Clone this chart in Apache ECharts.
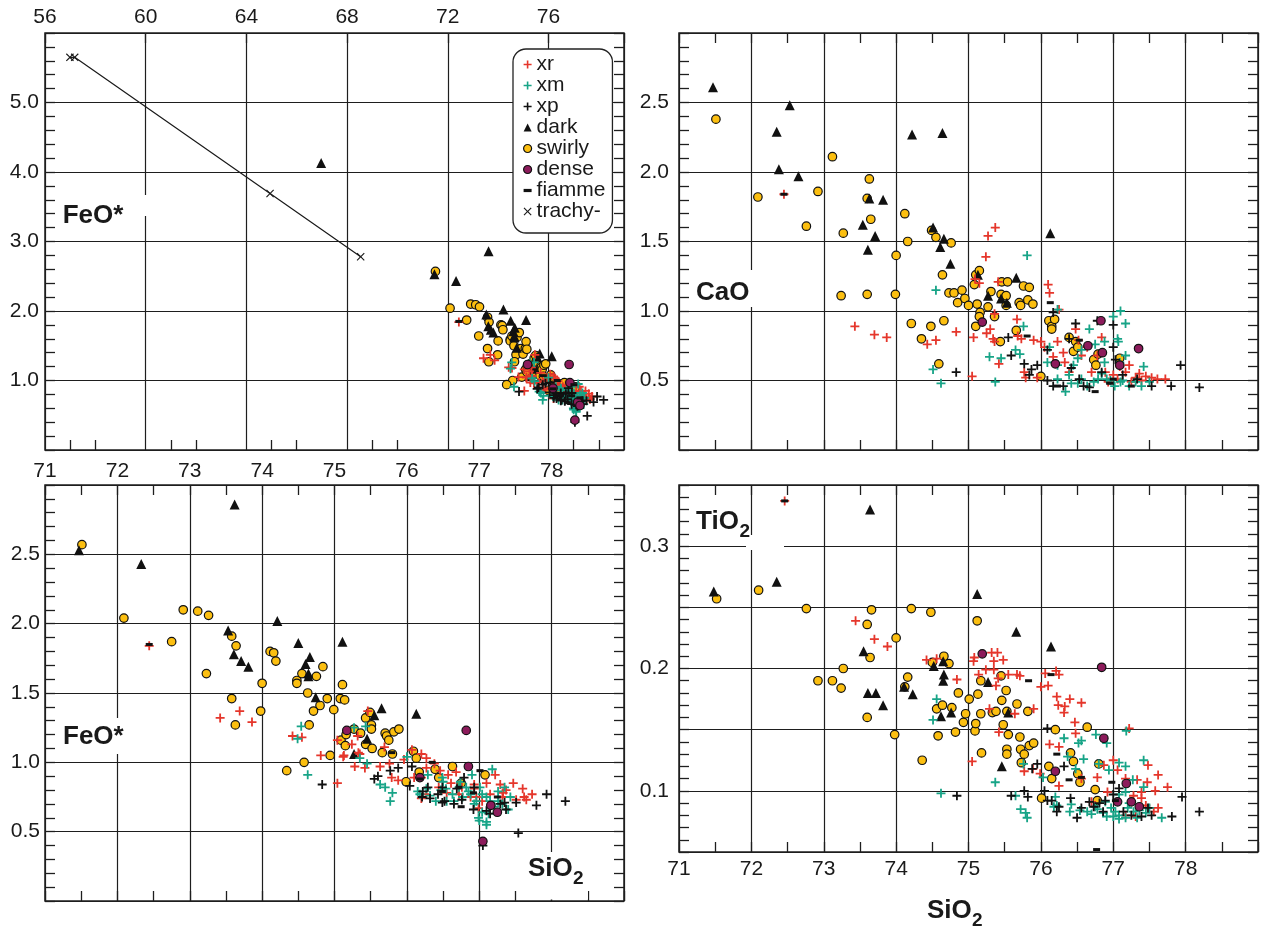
<!DOCTYPE html>
<html><head><meta charset="utf-8">
<script src="https://cdn.jsdelivr.net/npm/echarts@6/dist/echarts.min.js"></script>
<style>html,body{margin:0;padding:0;background:#fff}#c{width:1261px;height:928px}</style>
</head><body><div id="c"></div>
<script>
// ---------- tick labels ----------
const tlXLabels = ['56','60','64','68','72','76'];
const tlMinorX = [57,58,61,62,65,66,69,70,73,74,77,78];
const tlYLabels = ['1.0','2.0','3.0','4.0','5.0'];
const caoYLabels = ['0.5','1.0','1.5','2.0','2.5'];
const feoYLabels = ['0.5','1.0','1.5','2.0','2.5'];
const tioYLabels = ['0.1','0.2','0.3'];
const sio2Labels = ['71','72','73','74','75','76','77','78'];
const categories = ['xr','xm','xp','dark','swirly','dense','fiamme','trachy-'];

// ---------- FeO* vs SiO2 (top-left and bottom-left) ----------
const feo_xr = [[72.44,1.84],[73.42,1.32],[73.69,1.37],[73.86,1.29],[74.42,1.19],[74.55,1.18],[74.81,1.05],[75.04,0.85],[75.04,1.16],[75.13,1.05],[75.28,0.97],[75.42,0.96],[75.46,1.37],[75.32,1.19],[75.24,1.13],[75.35,1.06],[75.63,0.97],[75.76,0.99],[75.69,1.11],[75.79,0.89],[75.96,1.02],[76.07,1.09],[76.20,1.06],[76.27,1.03],[76.10,0.89],[76.27,0.96],[76.38,0.99],[76.46,0.94],[76.57,0.91],[76.68,0.93],[76.76,0.82],[76.93,0.84],[77.10,0.85],[77.22,0.91],[77.29,0.84],[77.37,0.80],[77.47,0.85],[77.60,0.81],[77.73,0.77],[77.62,0.75],[77.51,0.73],[77.32,0.75],[77.04,0.72],[76.88,0.75],[76.72,0.77],[76.55,0.78],[76.44,0.82],[76.27,0.77],[76.93,0.81],[77.15,0.77],[76.99,0.67],[76.20,0.74],[76.61,0.85],[75.12,1.04],[75.33,1.07],[75.88,0.87],[76.20,0.89],[76.96,0.75],[77.33,0.78],[77.65,0.73]];
const feo_xm = [[74.54,1.26],[74.49,1.17],[74.63,0.91],[75.27,1.25],[75.35,1.03],[75.43,1.26],[75.63,0.84],[75.70,0.82],[75.80,0.78],[75.77,0.72],[76.00,1.04],[76.15,0.79],[76.18,0.77],[76.32,0.76],[76.40,0.72],[76.49,0.89],[76.54,0.81],[76.63,0.77],[76.65,0.72],[76.74,0.86],[76.82,0.82],[76.88,0.77],[76.90,0.91],[76.96,0.72],[76.99,0.60],[77.04,0.64],[77.10,0.57],[77.15,0.72],[77.18,0.95],[77.21,0.68],[77.26,0.79],[77.32,0.70],[77.40,0.66],[77.43,0.75],[76.77,0.75],[76.55,0.72],[77.04,0.77],[76.72,0.82],[77.01,0.82],[77.35,0.82],[77.26,0.72],[76.93,0.70],[76.27,0.81],[76.47,0.80],[76.85,0.79],[77.10,0.75],[77.13,0.63],[76.29,0.91],[76.50,0.86],[75.45,0.99],[77.10,0.55],[77.00,0.58]];
const feo_xp = [[74.83,0.84],[75.55,0.88],[75.60,0.90],[75.77,0.94],[75.88,0.96],[76.07,0.97],[76.04,0.83],[76.21,0.75],[76.29,0.82],[76.49,0.71],[76.65,0.70],[76.79,0.89],[76.93,0.82],[77.10,0.65],[77.15,0.63],[77.29,0.70],[77.37,0.66],[77.54,0.49],[77.51,0.71],[77.79,0.69],[77.93,0.77],[78.19,0.72],[77.05,0.40],[76.49,0.82],[76.43,0.77],[76.76,0.73],[76.32,0.74],[76.52,0.72],[76.69,0.81],[76.92,0.66],[77.35,0.71],[76.22,0.79]];
const feo_dark = [[71.47,2.53],[72.33,2.43],[73.62,2.86],[74.21,2.02],[73.53,1.95],[73.61,1.78],[73.71,1.73],[73.81,1.69],[74.50,1.86],[75.11,1.87],[74.66,1.76],[74.60,1.71],[74.64,1.64],[74.64,1.62],[74.74,1.47],[75.65,1.39],[75.55,1.34],[75.45,1.17],[75.27,1.06],[76.13,1.35],[66.97,4.13]];
const feo_swirly = [[71.51,2.57],[72.09,2.04],[72.91,2.10],[73.11,2.09],[73.26,2.06],[72.75,1.87],[73.23,1.64],[73.58,1.91],[73.64,1.84],[73.58,1.46],[73.63,1.27],[74.00,1.57],[73.98,1.37],[74.11,1.80],[74.16,1.79],[74.19,1.73],[74.48,1.59],[74.48,1.57],[74.55,1.64],[74.75,1.62],[74.84,1.69],[74.63,1.50],[74.80,1.41],[74.71,1.37],[74.65,1.27],[74.90,1.46],[74.99,1.38],[75.08,1.46],[75.11,1.56],[75.14,1.45],[74.94,1.05],[74.58,1.00],[74.34,0.94],[75.09,1.16],[75.16,1.20],[75.15,1.12],[75.27,1.24],[75.36,1.21],[75.43,1.32],[75.49,1.36],[75.51,1.27],[75.51,1.24],[75.43,1.13],[75.52,1.10],[75.66,1.07],[75.70,1.21],[75.72,1.19],[75.75,1.16],[75.82,1.22],[75.89,1.24],[75.80,1.06],[75.99,0.86],[76.09,1.08],[76.13,1.03],[76.17,0.93],[76.39,0.95],[76.44,0.89],[76.63,0.97],[77.08,0.91],[76.75,0.85]];
const feo_dense = [[76.82,1.23],[76.85,0.97],[77.16,0.69],[77.25,0.64],[77.05,0.43],[75.17,1.23],[76.18,0.89]];
const feo_fiamme = [[72.44,1.85],[75.79,1.07],[76.35,1.00],[76.75,0.68],[77.01,0.94],[76.92,0.78],[77.25,0.75],[76.49,0.79],[76.72,0.82],[76.18,0.88]];
const trachy_feo = [[56.99,5.65],[57.18,5.65],[64.94,3.69],[68.54,2.78]];

// ---------- CaO vs SiO2 (top-right) ----------
const cao_xr = [[72.45,1.84],[73.43,0.89],[73.70,0.83],[73.87,0.81],[74.43,0.76],[74.55,0.79],[74.83,0.85],[75.05,0.53],[75.07,0.81],[75.27,1.54],[75.37,1.60],[75.24,1.39],[75.09,1.23],[75.15,1.20],[75.41,1.21],[75.25,0.84],[75.30,0.87],[75.34,0.80],[75.36,0.98],[75.42,0.62],[75.36,0.78],[75.67,0.94],[75.68,0.82],[75.73,0.80],[75.77,0.56],[75.79,0.52],[75.90,0.79],[75.95,0.52],[76.00,0.78],[76.05,0.74],[76.10,1.19],[76.12,1.13],[76.25,1.01],[76.17,0.67],[76.23,0.78],[76.31,0.70],[76.33,0.63],[76.39,0.56],[76.48,0.87],[76.52,0.79],[76.56,0.68],[76.64,0.74],[76.70,0.56],[76.78,0.68],[76.84,0.81],[76.89,0.56],[77.00,0.54],[77.09,0.60],[77.17,0.56],[77.22,0.61],[77.31,0.52],[77.36,0.55],[77.45,0.53],[77.53,0.52],[77.61,0.51],[77.72,0.51],[77.06,0.51],[76.93,0.49],[77.25,0.49],[77.39,0.50]];
const cao_xm = [[74.55,1.15],[74.51,0.58],[74.62,0.48],[75.29,0.67],[75.45,0.66],[75.37,0.49],[75.65,0.72],[75.71,0.69],[75.76,0.89],[75.81,1.40],[76.23,1.01],[76.09,0.63],[76.12,0.74],[76.23,0.51],[76.34,0.42],[76.39,0.54],[76.45,0.61],[76.51,0.66],[76.56,0.72],[76.67,0.87],[76.75,0.76],[76.88,0.78],[77.00,0.96],[77.10,1.00],[77.17,0.91],[77.06,0.80],[77.07,0.78],[77.17,0.68],[77.09,0.63],[76.84,0.55],[76.73,0.49],[76.64,0.46],[76.51,0.48],[76.91,0.51],[77.02,0.46],[77.13,0.50],[77.22,0.46],[77.31,0.49],[77.42,0.60],[77.50,0.49],[77.39,0.46],[76.79,0.51],[76.56,0.51],[76.42,0.48],[76.88,0.63],[76.96,0.50],[77.10,0.49],[76.23,0.61]];
const cao_xp = [[74.83,0.56],[75.55,0.81],[75.59,0.68],[75.77,0.62],[75.87,0.58],[75.95,0.61],[75.84,0.54],[76.09,0.72],[76.09,0.50],[76.17,0.99],[76.17,0.46],[76.31,0.46],[76.39,0.80],[76.48,0.91],[76.42,0.59],[76.53,0.51],[76.59,0.46],[76.67,0.45],[76.78,0.93],[77.00,0.90],[77.00,0.74],[77.03,0.65],[77.13,0.54],[77.33,0.51],[77.53,0.46],[77.80,0.46],[78.19,0.45],[77.93,0.61],[76.84,0.56]];
const cao_dark = [[71.47,2.61],[72.53,2.48],[72.35,2.29],[72.38,2.02],[72.65,1.97],[74.22,2.27],[74.64,2.28],[73.63,1.81],[73.82,1.80],[73.54,1.62],[73.71,1.54],[73.61,1.44],[74.51,1.60],[74.66,1.52],[74.61,1.46],[74.75,1.34],[76.13,1.56],[75.66,1.24],[75.27,1.11],[75.45,1.09],[75.53,1.06],[75.13,1.26]];
const cao_swirly = [[71.51,2.38],[72.09,1.82],[72.92,1.86],[72.76,1.61],[73.27,1.56],[73.12,2.11],[73.24,1.11],[73.60,1.12],[73.63,1.95],[73.60,1.81],[73.65,1.66],[73.99,1.12],[74.00,1.40],[74.12,1.70],[74.16,1.50],[74.21,0.91],[74.35,0.80],[74.48,0.89],[74.59,0.62],[74.66,0.93],[74.49,1.58],[74.55,1.53],[74.76,1.49],[74.64,1.26],[74.73,1.13],[74.80,1.13],[74.85,1.06],[74.91,1.15],[74.95,1.09],[75.00,1.04],[75.08,1.19],[75.12,1.05],[75.10,1.26],[75.15,1.29],[75.16,0.99],[75.15,0.96],[75.10,0.89],[75.27,1.03],[75.31,1.14],[75.36,0.96],[75.44,0.78],[75.46,1.21],[75.54,1.21],[75.45,1.12],[75.52,1.11],[75.52,1.04],[75.66,0.86],[75.70,1.06],[75.72,1.04],[75.76,1.18],[75.84,1.17],[75.82,1.08],[75.89,1.05],[76.00,0.53],[76.11,0.93],[76.15,0.89],[76.15,0.87],[76.19,0.94],[76.39,0.81],[76.48,0.78],[76.45,0.71],[76.51,0.74],[76.73,0.65],[76.76,0.61],[77.09,0.66],[76.79,0.69]];
const cao_dense = [[75.19,0.92],[76.83,0.93],[77.35,0.73],[76.20,0.62],[76.65,0.75],[76.85,0.70],[77.09,0.61]];
const cao_fiamme = [[72.45,1.84],[76.13,1.06],[75.81,0.82],[76.23,0.46],[76.75,0.42],[76.95,0.48],[77.25,0.46],[77.00,0.51],[76.53,0.79]];

// ---------- TiO2 vs SiO2 (bottom-right) ----------
const tio_xr = [[72.46,0.337],[73.44,0.239],[73.70,0.224],[73.88,0.218],[74.42,0.207],[74.56,0.208],[74.84,0.191],[75.05,0.124],[75.08,0.209],[75.07,0.206],[75.14,0.195],[75.24,0.199],[75.32,0.213],[75.40,0.213],[75.35,0.206],[75.48,0.207],[75.35,0.199],[75.38,0.186],[75.29,0.167],[75.41,0.192],[75.42,0.148],[75.55,0.195],[75.67,0.195],[75.71,0.194],[75.64,0.163],[75.90,0.167],[75.77,0.116],[75.89,0.118],[75.99,0.114],[76.00,0.185],[76.06,0.196],[76.10,0.186],[76.21,0.198],[76.25,0.195],[76.22,0.177],[76.24,0.170],[76.33,0.169],[76.40,0.175],[76.32,0.164],[76.47,0.156],[76.56,0.172],[76.12,0.138],[76.25,0.136],[76.25,0.104],[76.48,0.147],[76.56,0.110],[76.78,0.111],[76.87,0.121],[77.00,0.125],[77.06,0.117],[77.17,0.110],[77.33,0.109],[77.47,0.107],[77.22,0.151],[77.48,0.121],[77.62,0.113],[77.75,0.103],[77.58,0.100],[77.45,0.088],[77.31,0.079],[77.17,0.080],[77.39,0.099],[77.56,0.083],[77.62,0.086],[76.92,0.099],[76.70,0.091],[77.39,0.094],[77.28,0.096]];
const tio_xm = [[74.51,0.158],[74.56,0.175],[74.62,0.098],[75.37,0.107],[75.72,0.085],[75.79,0.082],[75.81,0.078],[75.65,0.096],[75.76,0.122],[76.03,0.111],[76.20,0.095],[76.22,0.088],[76.18,0.087],[76.32,0.143],[76.37,0.128],[76.48,0.118],[76.52,0.139],[76.56,0.141],[76.59,0.126],[76.76,0.146],[76.91,0.139],[76.80,0.122],[76.94,0.117],[77.08,0.123],[77.17,0.120],[77.42,0.125],[77.18,0.149],[77.27,0.109],[77.42,0.103],[77.17,0.099],[77.08,0.097],[76.89,0.091],[76.75,0.087],[76.64,0.083],[76.54,0.084],[76.40,0.083],[76.86,0.082],[77.00,0.079],[77.08,0.080],[77.17,0.078],[77.28,0.083],[77.45,0.082],[77.67,0.078],[77.50,0.086],[76.97,0.086],[76.78,0.085],[77.20,0.086],[77.36,0.084],[77.03,0.083],[76.70,0.081],[76.91,0.079],[77.22,0.090],[77.08,0.077],[77.33,0.078],[76.42,0.089]];
const tio_xp = [[74.84,0.096],[75.59,0.096],[75.77,0.100],[75.82,0.095],[75.88,0.118],[75.95,0.122],[76.05,0.100],[76.09,0.092],[76.15,0.092],[76.09,0.151],[76.22,0.083],[76.25,0.087],[76.32,0.120],[76.41,0.094],[76.50,0.078],[76.56,0.086],[76.67,0.091],[76.73,0.087],[76.81,0.090],[76.89,0.092],[77.00,0.097],[77.08,0.102],[77.25,0.080],[77.39,0.079],[77.48,0.086],[77.53,0.080],[77.81,0.079],[77.95,0.095],[78.19,0.083],[76.86,0.083],[77.14,0.083]];
const tio_dark = [[71.48,0.263],[72.35,0.271],[73.64,0.330],[75.12,0.261],[75.66,0.230],[76.14,0.218],[73.55,0.214],[73.61,0.180],[73.72,0.180],[73.82,0.170],[74.23,0.179],[74.52,0.202],[74.65,0.206],[74.66,0.195],[74.65,0.190],[74.62,0.161],[74.76,0.164],[75.27,0.189],[75.55,0.164],[75.46,0.120],[74.11,0.185]];
const tio_swirly = [[71.52,0.257],[72.10,0.264],[72.76,0.249],[73.60,0.236],[73.66,0.248],[73.64,0.209],[73.27,0.200],[72.92,0.190],[73.12,0.190],[73.24,0.184],[73.60,0.160],[74.00,0.225],[73.98,0.146],[74.12,0.185],[74.16,0.193],[74.21,0.249],[74.36,0.125],[74.48,0.246],[74.50,0.205],[74.56,0.167],[74.64,0.170],[74.66,0.210],[74.73,0.204],[74.77,0.168],[74.58,0.145],[74.82,0.148],[74.86,0.180],[74.93,0.156],[74.96,0.163],[75.01,0.175],[75.09,0.149],[75.10,0.155],[75.12,0.239],[75.13,0.179],[75.17,0.190],[75.17,0.163],[75.18,0.131],[75.33,0.164],[75.38,0.165],[75.45,0.194],[75.46,0.174],[75.48,0.154],[75.52,0.182],[75.53,0.165],[75.53,0.134],[75.53,0.130],[75.55,0.146],[75.67,0.171],[75.71,0.144],[75.72,0.134],[75.73,0.123],[75.77,0.130],[75.82,0.165],[75.84,0.137],[75.90,0.139],[76.01,0.094],[76.11,0.120],[76.15,0.110],[76.20,0.150],[76.41,0.131],[76.45,0.124],[76.51,0.114],[76.54,0.107],[76.64,0.152],[76.75,0.101],[76.78,0.092],[76.80,0.122]];
const tio_dense = [[75.19,0.212],[76.84,0.201],[76.87,0.143],[76.20,0.116],[77.18,0.106],[77.25,0.091],[77.06,0.091],[77.36,0.087]];
const tio_fiamme = [[72.46,0.337],[75.83,0.190],[76.14,0.195],[76.22,0.130],[76.39,0.109],[76.56,0.111],[76.77,0.052],[76.98,0.107],[77.03,0.092]];

// ---------- styling ----------
const FONT = '"Liberation Sans", Arial, Helvetica, sans-serif';
const AX = '#1e1e1e';
const CROSS = 'path://M4,0H6V4H10V6H6V10H4V6H0V4H4Z';
const XMARK = 'path://M1,0L5,4L9,0L10,1L6,5L10,9L9,10L5,6L1,10L0,9L4,5L0,1Z';
const DASH = 'path://M0,0H10V4H0Z';
const COL = {xr:'#e5362b', xm:'#17a487', xp:'#111', dark:'#111', swirly:'#fcbf10', dense:'#8c1b5b', fiamme:'#111', trachy:'#1a1a1a'};
const STY = {
  xr:{symbol:CROSS, symbolSize:9, itemStyle:{color:COL.xr, opacity:1}},
  xm:{symbol:CROSS, symbolSize:9, itemStyle:{color:COL.xm, opacity:1}},
  xp:{symbol:CROSS, symbolSize:9, itemStyle:{color:COL.xp, opacity:1}},
  swirly:{symbol:'circle', symbolSize:8.5, itemStyle:{color:COL.swirly, borderColor:'#111', borderWidth:1.2, opacity:1}},
  dark:{symbol:'triangle', symbolSize:10, itemStyle:{color:COL.dark, opacity:1}},
  dense:{symbol:'circle', symbolSize:8.5, itemStyle:{color:COL.dense, borderColor:'#111', borderWidth:1.2, opacity:1}},
  fiamme:{symbol:'rect', symbolSize:[7,3], itemStyle:{color:COL.fiamme, opacity:1}}
};
const ORDER = ['swirly','dark','xr','xm','xp','dense','fiamme'];

function fmt(list){ return v => { for (const s of list) if (Math.abs(parseFloat(s) - v) < 1e-6) return s; return ''; }; }
const tickLine = {color:AX, width:1.3};
const SPL = {show:true, lineStyle:{color:AX, width:1.2}};
function minor(n, len){ return {show:true, splitNumber:n, length:len, lineStyle:{color:AX, width:1.3}}; }
function lab(list, margin){ return {show:true, margin:margin, fontSize:21, color:'#1a1a1a', fontFamily:FONT, formatter:fmt(list), showMinLabel:true, showMaxLabel:true}; }

const xAxes = [], yAxes = [];
function axisBase(o){
  return Object.assign({type:'value', axisLine:{show:false, onZero:false},
    axisTick:{show:true, inside:true, length:10, lineStyle:tickLine},
    axisLabel:{show:false}, splitLine:{show:false}, minorTick:{show:false},
    minorSplitLine:{show:false}, axisPointer:{show:false}}, o);
}
function addX(o){ xAxes.push(axisBase(o)); return xAxes.length - 1; }
function addY(o){ yAxes.push(axisBase(o)); return yAxes.length - 1; }

const grids = [
  {left:45, top:33, width:579, height:417},
  {left:679, top:33, width:579, height:417},
  {left:45, top:485, width:579, height:416},
  {left:679, top:485, width:579, height:367}
].map(g => Object.assign({show:true, borderColor:AX, borderWidth:1.5, backgroundColor:'transparent', containLabel:false, outerBoundsMode:'none'}, g));

// Top-left
const tlX = addX({gridIndex:0, position:'bottom', min:56, max:79,
  axisTick:{show:true, inside:true, length:10, lineStyle:tickLine, customValues:tlMinorX}});
addX({gridIndex:0, position:'top', min:56, max:79, interval:4, splitLine:SPL, axisLabel:lab(tlXLabels,5)});
const tlY = addY({gridIndex:0, position:'left', min:0, max:6, interval:1, splitLine:SPL, minorTick:minor(5,10), axisLabel:lab(tlYLabels,6)});
addY({gridIndex:0, position:'right', min:0, max:6, interval:1, minorTick:minor(5,10)});
// Top-right
const trX = addX({gridIndex:1, position:'bottom', min:71, max:79, interval:1, splitLine:SPL, minorTick:minor(2,10)});
addX({gridIndex:1, position:'top', min:71, max:79, interval:1, minorTick:minor(2,10)});
const trY = addY({gridIndex:1, position:'left', min:0, max:3, interval:0.5, splitLine:SPL, minorTick:minor(5,10), axisLabel:lab(caoYLabels,10)});
addY({gridIndex:1, position:'right', min:0, max:3, interval:0.5, minorTick:minor(5,10)});
// Bottom-left
const blX = addX({gridIndex:2, position:'bottom', min:71, max:79, interval:1, splitLine:SPL, minorTick:minor(2,10)});
addX({gridIndex:2, position:'top', min:71, max:79, interval:1, minorTick:minor(2,10), axisLabel:lab(sio2Labels,3)});
const blY = addY({gridIndex:2, position:'left', min:0, max:3, interval:0.5, splitLine:SPL, minorTick:minor(5,10), axisLabel:lab(feoYLabels,5)});
addY({gridIndex:2, position:'right', min:0, max:3, interval:0.5, minorTick:minor(5,10)});
// Bottom-right
const brX = addX({gridIndex:3, position:'bottom', min:71, max:79, interval:1, splitLine:SPL, minorTick:minor(2,10), axisLabel:lab(sio2Labels,7)});
addX({gridIndex:3, position:'top', min:71, max:79, interval:1, minorTick:minor(2,10)});
const brY = addY({gridIndex:3, position:'left', min:0.05, max:0.35, interval:0.05, splitLine:SPL, minorTick:minor(5,10), axisLabel:lab(tioYLabels,10)});
addY({gridIndex:3, position:'right', min:0.05, max:0.35, interval:0.05, minorTick:minor(5,10)});

const panels = [
  {x:tlX, y:tlY, sets:{xr:feo_xr, xm:feo_xm, xp:feo_xp, dark:feo_dark, swirly:feo_swirly, dense:feo_dense, fiamme:feo_fiamme}},
  {x:trX, y:trY, sets:{xr:cao_xr, xm:cao_xm, xp:cao_xp, dark:cao_dark, swirly:cao_swirly, dense:cao_dense, fiamme:cao_fiamme}},
  {x:blX, y:blY, sets:{xr:feo_xr, xm:feo_xm, xp:feo_xp, dark:feo_dark, swirly:feo_swirly, dense:feo_dense, fiamme:feo_fiamme}},
  {x:brX, y:brY, sets:{xr:tio_xr, xm:tio_xm, xp:tio_xp, dark:tio_dark, swirly:tio_swirly, dense:tio_dense, fiamme:tio_fiamme}}
];
const series = [];
panels.forEach(p => {
  ORDER.forEach(k => {
    series.push(Object.assign({type:'scatter', name:k, data:p.sets[k], xAxisIndex:p.x, yAxisIndex:p.y,
      clip:true, animation:false, emphasis:{disabled:true}}, STY[k]));
  });
});
series.push({type:'line', name:'trachy-', data:trachy_feo, xAxisIndex:tlX, yAxisIndex:tlY,
  symbol:XMARK, symbolSize:8, showSymbol:true, showAllSymbol:true, clip:true, animation:false,
  lineStyle:{color:COL.trachy, width:1.2}, itemStyle:{color:COL.trachy, opacity:1}, emphasis:{disabled:true}});

const legendData = [
  {name:'xr', icon:CROSS, itemStyle:{color:COL.xr, borderWidth:0, opacity:1}},
  {name:'xm', icon:CROSS, itemStyle:{color:COL.xm, borderWidth:0, opacity:1}},
  {name:'xp', icon:CROSS, itemStyle:{color:COL.xp, borderWidth:0, opacity:1}},
  {name:'dark', icon:'triangle', itemStyle:{color:COL.dark, borderWidth:0, opacity:1}},
  {name:'swirly', icon:'circle', itemStyle:{color:COL.swirly, borderColor:'#111', borderWidth:1.2, opacity:1}},
  {name:'dense', icon:'circle', itemStyle:{color:COL.dense, borderColor:'#111', borderWidth:1.2, opacity:1}},
  {name:'fiamme', icon:DASH, itemStyle:{color:COL.fiamme, borderWidth:0, opacity:1}},
  {name:'trachy-', icon:XMARK, itemStyle:{color:COL.trachy, borderWidth:0, opacity:1}}
];

function txt(x, y, s, size){
  return {type:'text', x:x, y:y, z:10, silent:true,
    style:{text:s, font:'bold ' + size + 'px ' + FONT, fill:'#1a1a1a', align:'left', verticalAlign:'middle', textAlign:'left', textVerticalAlign:'middle'}};
}
function wrect(x, y, w, h){ return {type:'rect', z:1, silent:true, shape:{x:x, y:y, width:w, height:h}, style:{fill:'#fff'}}; }

const graphic = [
  wrect(141,195,10,21),
  wrect(745,270,10,37),
  wrect(746,535,38,15),
  wrect(60,718,66,36),
  wrect(524,852,64,47.5),
  txt(62.7,216,'FeO*',26),
  txt(696,293,'CaO',26),
  txt(696,522,'TiO',26),
  txt(739.5,532,'2',19),
  txt(63,737,'FeO*',26),
  txt(528,869,'SiO',26),
  txt(573,879,'2',19),
  txt(927,911,'SiO',26),
  txt(972,921,'2',19)
];

const chart = echarts.init(document.getElementById('c'), null, {renderer:'canvas', width:1261, height:928});
chart.setOption({
  backgroundColor:'#fff',
  animation:false,
  textStyle:{fontFamily:FONT},
  grid:grids,
  xAxis:xAxes,
  yAxis:yAxes,
  legend:{
    orient:'vertical', left:513, top:49, padding:[5,7,11,10], itemGap:0, itemWidth:8, itemHeight:8,
    backgroundColor:'#fff', borderColor:'#222', borderWidth:1.3, borderRadius:13, selectedMode:false,
    textStyle:{fontSize:21, lineHeight:21, color:'#1a1a1a', fontFamily:FONT},
    data:legendData
  },
  graphic:graphic,
  series:series
});
</script>
</body></html>
